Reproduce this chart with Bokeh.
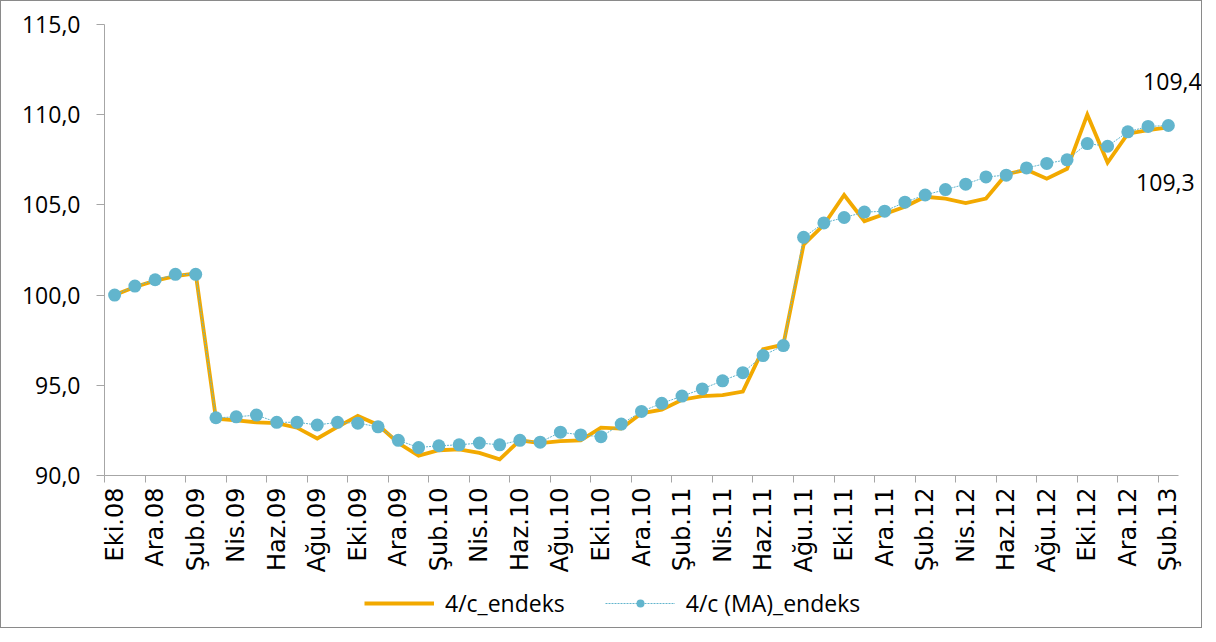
import math
from bokeh.plotting import figure
from bokeh.layouts import column
from bokeh.models import (ColumnDataSource, FixedTicker, CustomJSTickFormatter,
                          Legend, LegendItem, Range1d)
from bokeh.core.properties import value
from bokeh.embed import file_html
from bokeh.resources import INLINE

# ---- data ----
month_labels = [
    "Eki.08", "Kas.08", "Ara.08", "Oca.09", "Şub.09", "Mar.09", "Nis.09", "May.09",
    "Haz.09", "Tem.09", "Ağu.09", "Eyl.09", "Eki.09", "Kas.09", "Ara.09", "Oca.10",
    "Şub.10", "Mar.10", "Nis.10", "May.10", "Haz.10", "Tem.10", "Ağu.10", "Eyl.10",
    "Eki.10", "Kas.10", "Ara.10", "Oca.11", "Şub.11", "Mar.11", "Nis.11", "May.11",
    "Haz.11", "Tem.11", "Ağu.11", "Eyl.11", "Eki.11", "Kas.11", "Ara.11", "Oca.12",
    "Şub.12", "Mar.12", "Nis.12", "May.12", "Haz.12", "Tem.12", "Ağu.12", "Eyl.12",
    "Eki.12", "Kas.12", "Ara.12", "Oca.13", "Şub.13",
]

endeks = [
    100.0, 100.45, 100.8, 101.05, 101.2, 93.15, 93.05, 92.95, 92.9, 92.65,
    92.05, 92.7, 93.3, 92.8, 91.8, 91.1, 91.4, 91.45, 91.25, 90.9,
    91.95, 91.8, 91.9, 91.95, 92.65, 92.6, 93.45, 93.65, 94.2, 94.4,
    94.45, 94.65, 97.0, 97.25, 102.8, 103.9, 105.55, 104.1, 104.5, 104.9,
    105.45, 105.35, 105.1, 105.35, 106.7, 106.95, 106.45, 107.0, 110.0, 107.35,
    108.95, 109.15, 109.3,
]

ma_endeks = [
    100.0, 100.5, 100.85, 101.15, 101.15, 93.2, 93.25, 93.35, 92.95, 92.95,
    92.8, 92.95, 92.9, 92.7, 91.95, 91.55, 91.65, 91.7, 91.8, 91.7,
    91.95, 91.85, 92.4, 92.25, 92.15, 92.85, 93.55, 94.0, 94.4, 94.8,
    95.25, 95.7, 96.65, 97.2, 103.2, 104.0, 104.3, 104.6, 104.65, 105.15,
    105.55, 105.85, 106.15, 106.55, 106.65, 107.05, 107.3, 107.5, 108.4, 108.25,
    109.05, 109.35, 109.4,
]

series_names = ["4/c_endeks", "4/c (MA)_endeks"]
y_ticks = [90, 95, 100, 105, 110, 115]

# ---- build ----
x = list(range(len(month_labels)))
src = ColumnDataSource(dict(x=x, endeks=endeks, ma=ma_endeks))

ORANGE = "#F2A900"
BLUE = "#62B5CD"
AXIS = "#A6A6A6"

n = len(x)
px_per_month = (1177 - 103) / n          # horizontal scale of the reference
x_end = -0.5 + (1200 - 103) / px_per_month  # frame runs to the right edge

p = figure(width=1200, height=580, output_backend="svg", toolbar_location=None,
           x_range=Range1d(-0.5, x_end), y_range=Range1d(90, 115),
           min_border_left=103, min_border_right=0, min_border_top=23,
           min_border_bottom=106)
p.outline_line_color = None
p.xgrid.visible = False
p.ygrid.visible = False
p.background_fill_color = "white"
p.border_fill_color = "white"

r1 = p.line("x", "endeks", source=src, line_color=ORANGE, line_width=3.8,
            line_join="miter")
r2 = p.line("x", "ma", source=src, line_color=BLUE, line_width=1,
            line_dash="2 1")
r3 = p.scatter("x", "ma", source=src, size=13, fill_color=BLUE,
               line_color=BLUE, line_width=0)

# data labels for last values
last = n - 1
p.text(x=[last], y=[ma_endeks[last]], text=[f"{ma_endeks[last]:.1f}".replace(".", ",")],
       text_font=value("Open Sans"), text_font_size="23px", text_color="#000000",
       text_align="center", text_baseline="alphabetic", x_offset=4, y_offset=-44)
p.text(x=[last], y=[endeks[last]], text=[f"{endeks[last]:.1f}".replace(".", ",")],
       text_font=value("Open Sans"), text_font_size="23px", text_color="#000000",
       text_align="center", text_baseline="alphabetic", x_offset=-3, y_offset=55)

# y axis
ya = p.yaxis[0]
ya.ticker = FixedTicker(ticks=y_ticks)
ya.formatter = CustomJSTickFormatter(code="return tick.toFixed(1).replace('.', ',');")
ya.axis_line_color = AXIS
ya.major_tick_line_color = AXIS
ya.major_tick_out = 8
ya.major_tick_in = 0
ya.minor_tick_line_color = None
ya.major_label_standoff = 16
ya.major_label_text_font = "Open Sans"
ya.major_label_text_font_size = "23px"
ya.major_label_text_color = "#000000"

# x axis: labels every 2 months, tick marks at category boundaries
xa = p.xaxis[0]
label_pos = list(range(0, n, 2))
xa.ticker = FixedTicker(ticks=label_pos, minor_ticks=[i - 0.5 for i in label_pos])
xa.bounds = (-0.5, n - 0.5)
xa.major_label_overrides = {i: month_labels[i] for i in label_pos}
xa.major_label_orientation = math.pi / 2
xa.major_tick_line_color = None
xa.major_tick_out = 7
xa.major_tick_in = 0
xa.minor_tick_line_color = AXIS
xa.minor_tick_out = 7
xa.minor_tick_in = 0
xa.axis_line_color = AXIS
xa.major_label_standoff = 5
xa.major_label_text_font = "DejaVu Sans"
xa.major_label_text_font_size = "24px"
xa.major_label_text_color = "#000000"

# legend lives in its own strip below the chart; its renderers use the same
# data, which falls outside this strip's range so only the legend shows
pl = figure(width=1200, height=46, output_backend="svg", toolbar_location=None,
            x_range=Range1d(0, 1), y_range=Range1d(0, 1), min_border=0)
pl.axis.visible = False
pl.grid.visible = False
pl.outline_line_color = None
l1 = pl.line("x", "endeks", source=src, line_color=ORANGE, line_width=3.8)
l2 = pl.line("x", "ma", source=src, line_color=BLUE, line_width=1, line_dash="2 1")
l3 = pl.scatter("x", "ma", source=src, size=13, fill_color=BLUE, line_color=BLUE,
                line_width=0)
legend = Legend(items=[LegendItem(label=series_names[0], renderers=[l1]),
                       LegendItem(label=series_names[1], renderers=[l2, l3])],
                orientation="horizontal", location=(260, 8),
                border_line_color=None, background_fill_alpha=0,
                label_text_font="Open Sans", label_text_font_size="23px",
                label_text_color="#000000", glyph_width=70, glyph_height=20,
                label_standoff=11, spacing=40, margin=0, padding=4)
pl.add_layout(legend, "center")

layout = column(p, pl, spacing=0)
layout.styles = {"border": "1px solid #8a8a8a"}
open("out.html", "w").write(file_html(layout, INLINE))
